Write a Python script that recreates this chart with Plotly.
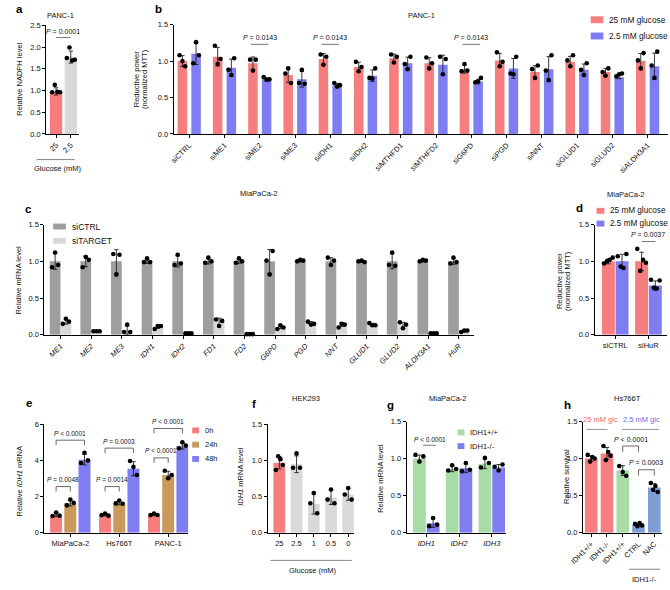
import numpy as np
import plotly.graph_objects as go

W, H = 670, 590
FONT = "Liberation Sans, Arial, sans-serif"
RED = '#F77E7E'
BLUE = '#7E7EF2'
GRAY_D = '#9E9E9E'
GRAY_L = '#D9D9D9'
BROWN = '#C99A5B'
GREEN = '#A8DBA6'
STEEL = '#7F9DD3'

# ---------------- data ----------------
# a
a_cats = ['25', '2.5']
a_mean = [0.98, 1.77]
a_pts = [[0.96, 1.13, 0.97, 0.96], [1.75, 1.99, 1.69, 1.71]]

# b
b_cats = ['siCTRL', 'siME1', 'siME2', 'siME3', 'siIDH1', 'siIDH2', 'siMTHFD1', 'siMTHFD2',
          'siG6PD', 'siPGD', 'siNNT', 'siGLUD1', 'siGLUD2', 'siALDH3A1']
b_hi_mean = [1.00, 1.06, 0.97, 0.81, 1.03, 0.92, 1.04, 0.97, 0.89, 1.01, 0.85, 0.99, 0.85, 1.00]
b_lo_mean = [1.10, 0.91, 0.75, 0.75, 0.67, 0.80, 0.97, 0.95, 0.72, 0.90, 0.89, 0.88, 0.78, 0.93]
b_hi_pts = [[1.08, 1.00, 0.93], [1.21, 0.96, 1.03], [1.02, 0.87, 1.02], [0.83, 0.90, 0.70],
            [1.09, 0.95, 1.06], [0.99, 0.86, 0.92], [1.09, 0.98, 1.06], [1.05, 0.90, 0.97],
            [0.86, 0.96, 0.87], [1.12, 0.93, 0.99], [0.89, 0.77, 0.94], [1.01, 0.93, 1.08],
            [0.85, 0.80, 0.90], [1.01, 0.90, 1.11]]
b_lo_pts = [[0.97, 1.26, 1.08], [0.88, 0.81, 1.04], [0.78, 0.745, 0.75], [0.70, 0.88, 0.69],
            [0.70, 0.65, 0.67], [0.77, 0.76, 0.90], [0.96, 0.89, 1.06], [1.06, 0.82, 1.03],
            [0.71, 0.72, 0.77], [0.83, 0.82, 1.06], [0.87, 0.74, 1.08], [0.88, 0.81, 0.97],
            [0.79, 0.82, 0.83], [0.94, 0.77, 1.13]]

# c
c_cats = ['ME1', 'ME2', 'ME3', 'IDH1', 'IDH2', 'FD1', 'FD2', 'G6PD', 'PGD', 'NNT',
          'GLUD1', 'GLUD2', 'ALDH3A1', 'HuR']
c_ctrl_mean = [1.0] * 14
c_tgt_mean = [0.18, 0.05, 0.06, 0.11, 0.02, 0.18, 0.01, 0.11, 0.16, 0.14, 0.14, 0.13, 0.02, 0.05]
c_ctrl_pts = [[0.92, 1.12, 0.95], [0.92, 1.06, 1.02], [1.10, 0.82, 1.09], [0.99, 1.04, 0.99],
              [0.95, 1.09, 0.97], [0.98, 1.05, 1.00], [0.98, 1.04, 1.00], [1.01, 0.82, 1.14],
              [1.00, 1.02, 1.01], [1.05, 0.95, 1.01], [1.00, 1.01, 0.99], [0.95, 1.12, 0.94],
              [1.00, 1.02, 1.01], [0.97, 1.05, 0.99]]
c_tgt_pts = [[0.15, 0.22, 0.18], [0.05, 0.05, 0.05], [0.04, 0.14, 0.04], [0.08, 0.12, 0.12],
             [0.02, 0.02, 0.02], [0.21, 0.12, 0.19], [0.01, 0.01, 0.01], [0.08, 0.13, 0.10],
             [0.18, 0.14, 0.15], [0.10, 0.15, 0.14], [0.16, 0.13, 0.13], [0.17, 0.09, 0.14],
             [0.02, 0.02, 0.02], [0.04, 0.06, 0.06]]

# d
d_cats = ['siCTRL', 'siHuR']
d_hi_mean = [1.00, 1.00]
d_lo_mean = [1.00, 0.67]
d_hi_pts = [[0.97, 1.00, 1.02, 1.05], [1.17, 0.87, 1.02, 0.98]]
d_lo_pts = [[1.07, 0.93, 0.91, 1.10], [0.75, 0.64, 0.63, 0.74]]

# e
e_cats = ['MiaPaCa-2', 'Hs766T', 'PANC-1']
e_0h = [1.00, 1.00, 1.00]
e_24h = [1.65, 1.65, 3.20]
e_48h = [4.05, 3.55, 4.80]
e_0h_pts = [[0.93, 1.12, 0.95], [0.98, 1.07, 0.95], [0.98, 1.07, 0.99]]
e_24h_pts = [[1.52, 1.84, 1.66], [1.63, 1.79, 1.61], [3.44, 3.02, 3.20]]
e_48h_pts = [[3.87, 4.43, 4.01], [3.98, 3.65, 3.20], [4.68, 5.01, 4.83]]

# f
f_cats = ['25', '2.5', '1', '0.5', '0']
f_mean = [0.97, 0.95, 0.40, 0.49, 0.53]
f_pts = [[0.87, 1.06, 1.02, 0.94], [0.90, 1.10, 0.90], [0.41, 0.55, 0.27],
         [0.46, 0.60, 0.41], [0.53, 0.62, 0.46]]

# g
g_cats = ['IDH1', 'IDH2', 'IDH3']
g_wt_mean = [1.00, 0.86, 0.93]
g_ko_mean = [0.13, 0.87, 0.88]
g_wt_pts = [[1.05, 0.96, 1.03], [0.84, 0.91, 0.86], [0.88, 1.01, 0.94]]
g_ko_pts = [[0.09, 0.20, 0.11], [0.83, 0.94, 0.85], [0.89, 0.84, 0.92]]

# h
h_cats = ['IDH1+/+', 'IDH1-/-', 'IDH1+/+', 'CTRL', 'NAC']
h_mean = [1.00, 1.07, 0.84, 0.11, 0.61]
h_pts = [[1.05, 0.96, 1.02, 1.00], [1.17, 0.98, 1.09, 1.04], [0.90, 0.82, 0.77],
         [0.12, 0.09, 0.13, 0.10], [0.67, 0.58, 0.63, 0.55]]
h_colors = [RED, RED, GREEN, STEEL, STEEL]

# ---------------- helpers ----------------
fig = go.Figure()
layout = {}
annots = []
shapes = []
G = {}


def sfx(k):
    return '' if k == 1 else str(k)


def add_axes(k, x0, x1, ytop, ybot, xr, yr, ticktext, tickangle, yticks, yfmt, italic=False):
    s = sfx(k)
    G[k] = dict(x0=x0, x1=x1, ytop=ytop, ybot=ybot, xr=xr, yr=yr)
    tt = ['<i>%s</i>' % t for t in ticktext] if italic else ticktext
    common = dict(showline=True, linecolor='black', linewidth=1, ticks='outside', ticklen=3,
                  tickwidth=1, tickcolor='black', showgrid=False, zeroline=False,
                  tickfont=dict(size=7.5, color='#111', family=FONT), fixedrange=True)
    layout['xaxis' + s] = dict(domain=[x0 / W, x1 / W], range=list(xr), anchor='y' + s,
                               tickmode='array', tickvals=list(range(len(ticktext))),
                               ticktext=tt, tickangle=tickangle, **common)
    layout['yaxis' + s] = dict(domain=[1 - ybot / H, 1 - ytop / H], range=list(yr), anchor='x' + s,
                               tickmode='array', tickvals=yticks,
                               ticktext=[yfmt % v for v in yticks], **common)


def X(k, v):
    g = G[k]
    return g['x0'] + (v - g['xr'][0]) / (g['xr'][1] - g['xr'][0]) * (g['x1'] - g['x0'])


def Y(k, v):
    g = G[k]
    return g['ybot'] - (v - g['yr'][0]) / (g['yr'][1] - g['yr'][0]) * (g['ybot'] - g['ytop'])


def bars(k, xs, ys, pts, color, width, jit):
    s = sfx(k)
    sd = [float(np.std(p, ddof=1)) for p in pts]
    fig.add_trace(go.Bar(x=xs, y=ys, width=width, marker=dict(color=color, line=dict(width=0)),
                         error_y=dict(type='data', array=sd, color='#222', thickness=0.9, width=2.2),
                         xaxis='x' + s, yaxis='y' + s, showlegend=False))
    px_, py_ = [], []
    for x, p in zip(xs, pts):
        n = len(p)
        offs = np.linspace(-1, 1, n) * jit
        px_ += list(x + offs)
        py_ += list(p)
    fig.add_trace(go.Scatter(x=px_, y=py_, mode='markers', cliponaxis=False,
                             marker=dict(color='black', size=4.6),
                             xaxis='x' + s, yaxis='y' + s, showlegend=False))


def text(x, y, t, size=7.5, color='#111', angle=0, xanchor='center', yanchor='middle'):
    annots.append(dict(x=x / W, y=1 - y / H, xref='paper', yref='paper', text=t, showarrow=False,
                       font=dict(size=size, color=color, family=FONT), textangle=angle,
                       xanchor=xanchor, yanchor=yanchor))


def line(x0, y0, x1, y1, color='#222', w=0.8):
    shapes.append(dict(type='line', xref='paper', yref='paper', x0=x0 / W, y0=1 - y0 / H,
                       x1=x1 / W, y1=1 - y1 / H, line=dict(color=color, width=w)))


def rect(x0, y0, x1, y1, color):
    shapes.append(dict(type='rect', xref='paper', yref='paper', x0=x0 / W, y0=1 - y0 / H,
                       x1=x1 / W, y1=1 - y1 / H, fillcolor=color, line=dict(width=0)))


def pline(k, xa, xb, yv, label, dy=7, size=7):
    yy = Y(k, yv)
    line(X(k, xa), yy, X(k, xb), yy, color='#555')
    text((X(k, xa) + X(k, xb)) / 2, yy - dy, label, size=size)


def bracket(k, xa, xb, yv, label, drop=5, dy=7, size=6.5):
    yy = Y(k, yv)
    xa_, xb_ = X(k, xa), X(k, xb)
    line(xa_, yy, xb_, yy, color='#444')
    line(xa_, yy, xa_, yy + drop, color='#444')
    line(xb_, yy, xb_, yy + drop, color='#444')
    text((xa_ + xb_) / 2, yy - dy, label, size=size)


def legend(items, x, y0, step, sw=7, sh=6, size=8):
    for i, (lab, col) in enumerate(items):
        yc = y0 + i * step
        rect(x, yc - sh / 2, x + sw, yc + sh / 2, col)
        text(x + sw + 4, yc, lab, size=size, xanchor='left')


P = '<i>P</i>'

# ---------------- panel a ----------------
add_axes(1, 33, 66, 21.7, 132, (-0.667, 1.533), (0, 2.5), a_cats, -45,
         [0, 0.5, 1.0, 1.5, 2.0, 2.5], '%.1f')
fig.add_trace(go.Bar(x=[0, 1], y=a_mean, width=0.84, marker=dict(color=[RED, GRAY_L], line=dict(width=0)),
                     error_y=dict(type='data', array=[float(np.std(p, ddof=1)) for p in a_pts],
                                  color='#222', thickness=0.9, width=2.2),
                     xaxis='x', yaxis='y', showlegend=False))
ax_, ay_ = [], []
for i, p in enumerate(a_pts):
    ax_ += list(i + np.linspace(-1, 1, len(p)) * 0.27)
    ay_ += p
fig.add_trace(go.Scatter(x=ax_, y=ay_, mode='markers', cliponaxis=False,
                         marker=dict(color='black', size=4.6), xaxis='x', yaxis='y', showlegend=False))
text(47, 12, 'PANC-1')
pline(1, 0, 1, 2.22, P + ' = 0.0001', dy=6)
line(23, 158, 62, 158, color='#666')
text(45, 167, 'Glucose (mM)')
text(6, 76, 'Relative NADPH level', angle=-90)

# ---------------- panel b ----------------
add_axes(2, 163, 668, 21, 132, (-0.444, 13.58), (0, 1.5), b_cats, -45, [0, 0.5, 1.0, 1.5], '%.1f')
xs = np.arange(len(b_cats))
bars(2, xs - 0.194, b_hi_mean, b_hi_pts, RED, 0.27, 0.08)
bars(2, xs + 0.194, b_lo_mean, b_lo_pts, BLUE, 0.27, 0.08)
text(416, 12, 'PANC-1')
for gi in [2, 4, 8]:
    pline(2, gi - 0.25, gi + 0.25, 1.23, P + ' = 0.0143', dy=7)
legend([('25 mM glucose', RED), ('2.5 mM glucose', BLUE)], 589, 16, 16.5, sw=13, sh=7, size=8.3)
text(125, 76, 'Reductive power', angle=-90)
text(134, 76, '(normalized MTT)', angle=-90)

# ---------------- panel c ----------------
add_axes(3, 31, 470, 224, 336, (-0.527, 13.5), (0, 1.5), c_cats, -45, [0, 0.5, 1.0, 1.5], '%.1f',
         italic=True)
xs = np.arange(len(c_cats))
bars(3, xs - 0.176, c_ctrl_mean, c_ctrl_pts, GRAY_D, 0.35, 0.1)
bars(3, xs + 0.176, c_tgt_mean, c_tgt_pts, GRAY_L, 0.35, 0.1)
text(250, 192, 'MiaPaCa-2')
legend([('siCTRL', GRAY_D), ('siTARGET', GRAY_L)], 40, 226, 14.5, sw=13, sh=6, size=8.5)
text(5, 280, 'Relative mRNA level', angle=-90)

# ---------------- panel d ----------------
add_axes(4, 593, 667, 224, 336, (-0.62, 1.56), (0, 1.5), d_cats, 0, [0, 0.5, 1.0, 1.5], '%.1f')
xs = np.arange(len(d_cats))
bars(4, xs - 0.206, d_hi_mean, d_hi_pts, RED, 0.39, 0.13)
bars(4, xs + 0.206, d_lo_mean, d_lo_pts, BLUE, 0.39, 0.13)
text(625, 193, 'MiaPaCa-2')
legend([('25 mM glucose', RED), ('2.5 mM glucose', BLUE)], 595, 210, 13, sw=8, sh=6, size=8.2)
pline(4, 1 - 0.206, 1 + 0.206, 1.27, P + ' = 0.0037', dy=7)
text(557, 281, 'Reductive power', angle=-90)
text(566, 281, '(normalized MTT)', angle=-90)

# ---------------- panel e ----------------
add_axes(5, 31, 178, 427, 537, (-0.53, 2.41), (0, 6), e_cats, 0, [0, 2, 4, 6], '%d')
xs = np.arange(len(e_cats))
bars(5, xs - 0.29, e_0h, e_0h_pts, RED, 0.245, 0.07)
bars(5, xs, e_24h, e_24h_pts, BROWN, 0.245, 0.07)
bars(5, xs + 0.29, e_48h, e_48h_pts, BLUE, 0.245, 0.07)
bracket(5, -0.29, 0.0, 2.56, P + ' = 0.0048')
bracket(5, -0.29, 0.29, 5.13, P + ' < 0.0001')
bracket(5, 0.71, 1.0, 2.56, P + ' = 0.0014')
bracket(5, 0.71, 1.29, 4.69, P + ' = 0.0003')
bracket(5, 1.71, 2.0, 4.15, P + ' < 0.0001')
bracket(5, 1.71, 2.29, 5.78, P + ' < 0.0001')
legend([('0h', RED), ('24h', BROWN), ('48h', BLUE)], 182, 433, 14.5, sw=7, sh=6, size=7.5)
text(6, 485, 'Relative <i>IDH1</i> mRNA', angle=-90)

# ---------------- panel f ----------------
add_axes(6, 259, 347, 427, 537, (-0.68, 4.32), (0, 1.5), f_cats, 0, [0, 0.5, 1.0, 1.5], '%.1f')
xs = np.arange(len(f_cats))
bars(6, list(xs), f_mean, f_pts, [RED] + [GRAY_L] * 4, 0.68, 0.2)
text(298, 401, 'HEK293')
line(262, 565, 345, 565, color='#666')
text(305, 575, 'Glucose (mM)')
text(232, 480, '<i>IDH1</i> mRNA level', angle=-90)

# ---------------- panel g ----------------
add_axes(7, 401, 502, 424, 537, (-0.6, 2.42), (0, 1.5), g_cats, 0, [0, 0.5, 1.0, 1.5], '%.1f',
         italic=True)
xs = np.arange(len(g_cats))
bars(7, xs - 0.209, g_wt_mean, g_wt_pts, GREEN, 0.39, 0.12)
bars(7, xs + 0.209, g_ko_mean, g_ko_pts, BLUE, 0.39, 0.12)
text(443, 401, 'MiaPaCa-2')
pline(7, -0.1, 0.3, 1.18, P + ' < 0.0001', dy=6, size=6.5)
legend([('IDH1+/+', GREEN), ('IDH1-/-', BLUE)], 453, 435, 14, sw=7, sh=6, size=7.5)
text(374, 482, 'Relative mRNA level', angle=-90)

# ---------------- panel h ----------------
add_axes(8, 581, 662, 424, 537, (-0.53, 4.5), (0, 1.5), h_cats, -45, [0, 0.5, 1.0, 1.5], '%.1f')
xs = np.arange(len(h_cats))
bars(8, list(xs), h_mean, h_pts, h_colors, 0.8, 0.22)
text(627, 401, 'Hs766T')
text(599, 422, '25 mM glc', size=7.5, color='#E86C6C')
line(585, 432, 606, 432, color='#777')
text(641, 422, '2.5 mM glc', size=7.5, color='#6C6CE0')
line(621, 432, 659, 432, color='#777')
bracket(8, 2, 3, 1.17, P + ' < 0.0001', drop=6, dy=7, size=7)
bracket(8, 3, 4, 0.85, P + ' = 0.0003', drop=6, dy=7, size=7)
line(628, 574, 660, 574, color='#666')
text(644, 584, 'IDH1-/-')
text(564, 480, 'Relative survival', angle=-90)

# ---------------- panel letters ----------------
for lab, x, y in [('a', 6, 5), ('b', 148, 5), ('c', 15, 208), ('d', 578, 207),
                  ('e', 15, 405), ('f', 245, 406), ('g', 385, 407), ('h', 565, 407)]:
    text(x, y, '<b>%s</b>' % lab, size=11.5, color='black')

fig.update_layout(**layout)
fig.update_layout(width=W, height=H, margin=dict(l=0, r=0, t=0, b=0), barmode='overlay',
                  plot_bgcolor='white', paper_bgcolor='white', annotations=annots, shapes=shapes,
                  font=dict(family=FONT, color='#111'), showlegend=False, hovermode=False)
fig.write_html('out.html', config={'displayModeBar': False, 'staticPlot': True},
               post_script="document.body.style.margin='0';document.body.style.overflow='hidden';")
